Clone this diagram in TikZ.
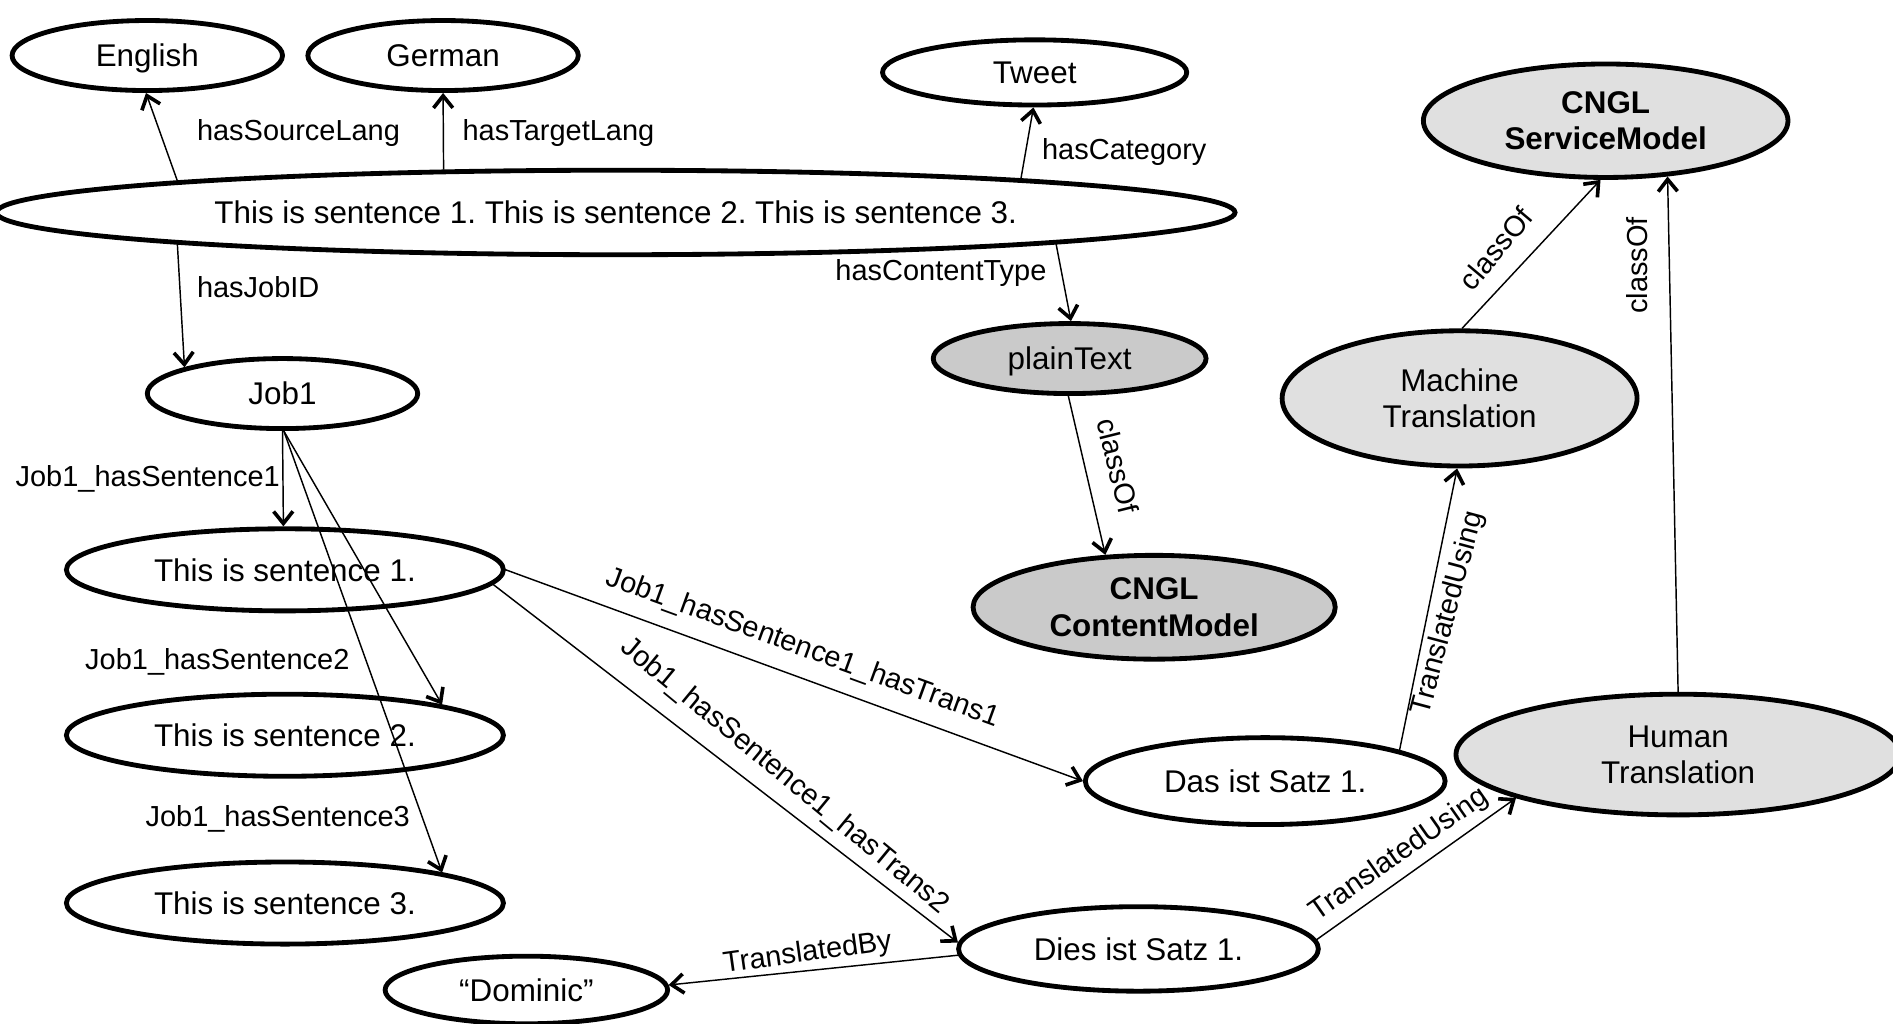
\documentclass[tikz,border=0pt]{standalone}
\usepackage{fontspec}
\setmainfont{Liberation Sans}
\usetikzlibrary{shapes.geometric,arrows.meta,calc}
\definecolor{lgray}{HTML}{E0E0E0}
\definecolor{mgray}{HTML}{CACACA}
\begin{document}
\frenchspacing
\begin{tikzpicture}[x=1pt,y=-1pt,
  nd/.style={ellipse, draw, line width=4pt, inner sep=0pt, align=center, fill=white,
    font=\fontsize{26}{30}\selectfont},
  one/.style={text height=23pt, text depth=4.4pt},
  lbl/.style={inner sep=0pt, font=\fontsize{24}{28}\selectfont},
  edge/.style={line width=1.2pt, -{Straight Barb[length=10pt,width=16pt,line width=3pt]}}]
\useasboundingbox[fill=white] (0,0) rectangle (1568,848);

% nodes
\node[nd, one, minimum width=224pt, minimum height=58pt] (english) at (122,46) {English};
\node[nd, one, minimum width=224pt, minimum height=58pt] (german) at (367,46) {German};
\node[nd, one, minimum width=252pt, minimum height=54pt] (tweet) at (857,60) {Tweet};
\node[nd, one, minimum width=1026pt, minimum height=70pt] (big) at (510,176)
  {This is sentence 1. This is sentence 2. This is sentence 3.};
\node[nd, one, minimum width=224pt, minimum height=58pt] (job1) at (234,326) {Job1};
\node[nd, one, minimum width=362pt, minimum height=68pt] (s1) at (236,472) {This is sentence 1.};
\node[nd, one, minimum width=362pt, minimum height=68pt] (s2) at (236,609) {This is sentence 2.};
\node[nd, one, minimum width=362pt, minimum height=68pt] (s3) at (236,748) {This is sentence 3.};
\node[nd, one, minimum width=234pt, minimum height=56pt] (dominic) at (436,820) {“Dominic”};
\node[nd, one, fill=mgray, minimum width=226pt, minimum height=58pt] (plain) at (886,297) {plainText};
\node[nd, fill=mgray, minimum width=300pt, minimum height=86pt, font=\fontsize{26}{30}\selectfont\bfseries] (content) at (956,503) {CNGL\\ContentModel};
\node[nd, fill=lgray, minimum width=302pt, minimum height=94pt, font=\fontsize{26}{30}\selectfont\bfseries] (service) at (1330,100) {CNGL\\ServiceModel};
\node[nd, fill=lgray, minimum width=294pt, minimum height=112pt] (mt) at (1209,330) {Machine\\Translation};
\node[nd, fill=lgray, minimum width=368pt, minimum height=100pt] (ht) at (1390,625) {Human\\Translation};
\node[nd, one, minimum width=298pt, minimum height=72pt] (das) at (1048,647) {Das ist Satz 1.};
\node[nd, one, minimum width=298pt, minimum height=70pt] (dies) at (943,786) {Dies ist Satz 1.};

% connectors
\draw[edge] ($(big.176)!0.14!(big.175)$) -- (english.268);
\draw[edge] (big.166) -- (german.270);
\draw[edge] ($(big.5)!0.21!(big.4)$) -- (tweet.268);
\draw[edge] ($(big.184)!0.14!(big.185)$) -- (job1.165);
\draw[edge] ($(big.356)!0.1!(big.355)$) -- (plain.88);
\draw[edge] (plain.268) -- (content.133);
\draw[edge] (mt.88) -- (service.265);
\draw[edge] (ht.90) -- (service.318);
\draw[edge] (job1.270) -- (s1.92);
\draw[edge] (job1.272) -- (s2.11);
\draw[edge] (job1.272) -- (s3.11);
\draw[edge] (s1.0) -- (das.180);
\draw[edge] (s1.356) -- (dies.178);
\draw[edge] (dies.182) -- (dominic.2);
\draw[edge] (das.13) -- (mt.268);
\draw[edge] (dies.3) -- (ht.195);

% labels
\node[lbl, anchor=west] (l1) at (163,110) {hasSourceLang};
\node[lbl, anchor=west] (l2) at (383,110) {hasTargetLang};
\node[lbl, anchor=west] (l3) at (863,126) {hasCategory};
\node[lbl, anchor=west] (l4) at (163,238) {hasJobID};
\node[lbl, anchor=east] (l5) at (867,226) {hasContentType};
\node[lbl, anchor=east] (l6) at (232,397) {Job1\_hasSentence1};
\node[lbl] (l7) at (180,548) {Job1\_hasSentence2};
\node[lbl] (l8) at (230,678) {Job1\_hasSentence3};
\node[lbl, rotate=-76] (l9) at (926,386) {classOf};
\node[lbl, rotate=50] (l10) at (1239,206) {classOf};
\node[lbl, rotate=90] (l11) at (1356,220) {classOf};
\node[lbl, rotate=-20] (l12) at (665,537) {Job1\_hasSentence1\_hasTrans1};
\node[lbl, rotate=-39.5] (l13) at (650,643) {Job1\_hasSentence1\_hasTrans2};
\node[lbl, rotate=8] (l14) at (669,790) {TranslatedBy};
\node[lbl, rotate=75] (l15) at (1200,508) {TranslatedUsing};
\node[lbl, rotate=35] (l16) at (1159,708) {TranslatedUsing};
\end{tikzpicture}
\end{document}
